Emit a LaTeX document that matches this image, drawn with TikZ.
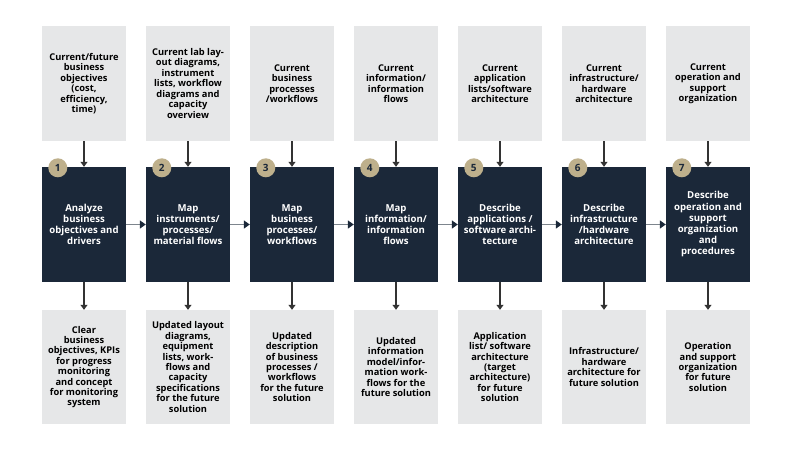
\documentclass[tikz,border=0pt]{standalone}
\usepackage{fontspec}
\setmainfont{Open Sans}
\usetikzlibrary{arrows.meta}
\definecolor{navy}{HTML}{1B2839}
\definecolor{boxgray}{HTML}{E6E7E8}
\definecolor{khaki}{HTML}{BEB08C}
\definecolor{linegray}{HTML}{7D858D}
\begin{document}
\begin{tikzpicture}[x=1pt, y=-1pt, line join=round,
		inbox/.style={fill=boxgray, minimum width=84pt, minimum height=115pt, inner sep=0pt, align=center, text=black, font=\fontsize{9.3}{10.5}\selectfont\bfseries},
		stepbox/.style={fill=navy, minimum width=84pt, minimum height=115pt, inner sep=0pt, align=center, text=white, font=\fontsize{9.6}{11.2}\selectfont\bfseries},
		outbox/.style={fill=boxgray, minimum width=84pt, minimum height=114pt, inner sep=0pt, align=center, text=black, font=\fontsize{9.3}{10.4}\selectfont\bfseries},
		numdot/.style={circle, fill=khaki, minimum size=19pt, inner sep=0pt, text=navy, font=\fontsize{10}{10}\selectfont\bfseries},
		vline/.style={draw=black!80, line width=1.2pt, -{Triangle[width=7pt,length=5pt]}},
		hline/.style={draw=linegray, line width=1.4pt, -{Triangle[width=8pt,length=6pt,color=navy]}}]
		\useasboundingbox (0,0) rectangle (800,450);
		% inputs
		\node[inbox] (t1) at (84,83.5) {Current/future\\business\\objectives\\(cost,\\efficiency,\\time)};
		\node[inbox] (t2) at (188,83.5) {Current lab lay-\\out diagrams,\\instrument\\lists, workflow\\diagrams and\\capacity\\overview};
		\node[inbox] (t3) at (292,83.5) {Current\\business\\processes\\/workflows};
		\node[inbox] (t4) at (396,83.5) {Current\\information/\\information\\flows};
		\node[inbox] (t5) at (500,83.5) {Current\\application\\lists/software\\architecture};
		\node[inbox] (t6) at (604,83.5) {Current\\infrastructure/\\hardware\\architecture};
		\node[inbox] (t7) at (708,83.5) {Current\\operation and\\support\\organization};
		% steps
		\node[stepbox] (s1) at (84,224.5) {Analyze\\business\\objectives and\\drivers};
		\node[stepbox] (s2) at (188,224.5) {Map\\instruments/\\processes/\\material flows};
		\node[stepbox] (s3) at (292,224.5) {Map\\business\\processes/\\workflows};
		\node[stepbox] (s4) at (396,224.5) {Map\\information/\\information\\flows};
		\node[stepbox] (s5) at (500,224.5) {Describe\\applications /\\software archi-\\tecture};
		\node[stepbox] (s6) at (604,224.5) {Describe\\infrastructure\\/hardware\\architecture};
		\node[stepbox] (s7) at (708,224.5) {Describe\\operation and\\support\\organization\\and\\procedures};
		% results
		\node[outbox] (r1) at (84,367) {Clear\\business\\objectives, KPIs\\for progress\\monitoring\\and concept\\for monitoring\\system};
		\node[outbox] (r2) at (188,367) {Updated layout\\diagrams,\\equipment\\lists, work-\\flows and\\capacity\\specifications\\for the future\\solution};
		\node[outbox] (r3) at (292,367) {Updated\\description\\of business\\processes /\\workflows\\for the future\\solution};
		\node[outbox] (r4) at (396,367) {Updated\\information\\model/infor-\\mation work-\\flows for the\\future solution};
		\node[outbox] (r5) at (500,367) {Application\\list/ software\\architecture\\(target\\architecture)\\for future\\solution};
		\node[outbox] (r6) at (604,367) {Infrastructure/\\hardware\\architecture for\\future solution};
		\node[outbox] (r7) at (708,367) {Operation\\and support\\organization\\for future\\solution};
		\foreach \i in {1,...,7}{
			\draw[vline] (t\i) -- (s\i);
			\draw[vline] (s\i) -- (r\i);
			\node[numdot] (n\i) at ([xshift=16pt,yshift=-1pt]s\i.north west) {\i};
		}
		\foreach \j [remember=\j as \i (initially 1)] in {2,...,7}
			\draw[hline] (s\i) -- (s\j);
\end{tikzpicture}
\end{document}
